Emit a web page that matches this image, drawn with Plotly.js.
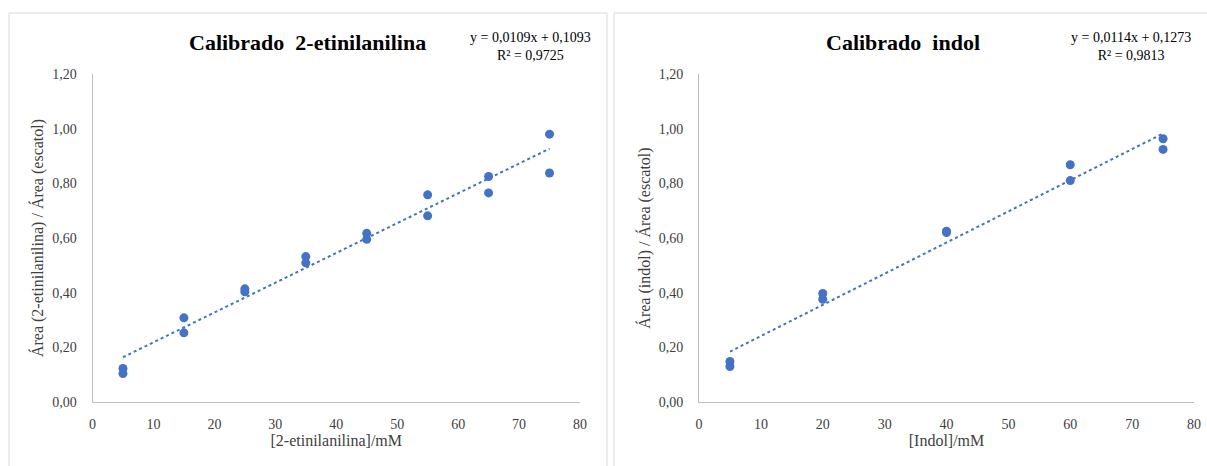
<!DOCTYPE html>
<html>
<head>
<meta charset="utf-8">
<script src="https://cdn.plot.ly/plotly-3.0.1.min.js"></script>
<style>html,body{margin:0;padding:0;background:#fff;}#chart{width:1207px;height:466px;}</style>
</head>
<body>
<div id="chart"></div>
<script>
// ---- Data: 2-etinilanilina calibration ----
const xEtin = [5, 5, 15, 15, 25, 25, 35, 35, 45, 45, 55, 55, 65, 65, 75, 75];
const yEtin = [0.123, 0.104, 0.308, 0.253, 0.414, 0.403, 0.532, 0.509, 0.617, 0.595, 0.758, 0.681, 0.825, 0.765, 0.980, 0.838];
const fitEtin = [0.0109, 0.1093];   // slope, intercept
const r2Etin = 0.9725;

// ---- Data: indol calibration ----
const xIndol = [5, 5, 20, 20, 40, 40, 60, 60, 75, 75];
const yIndol = [0.148, 0.130, 0.397, 0.376, 0.625, 0.620, 0.868, 0.810, 0.963, 0.924];
const fitIndol = [0.0114, 0.1273];
const r2Indol = 0.9813;

const titles = ["Calibrado  2-etinilanilina", "Calibrado  indol"];
const xTitles = ["[2-etinilanilina]/mM", "[Indol]/mM"];
const yTitles = ["Área (2-etinilanilina) / Área (escatol)", "Área (indol) / Área (escatol)"];

const BLUE = "#4472C4";
const SERIF = "Liberation Serif, Times New Roman, serif";

function fmt(v, d) { return v.toFixed(d).replace(".", ","); }
function fitLine(xs, coef) {
  const lo = Math.min(...xs), hi = Math.max(...xs);
  return { x: [lo, hi], y: [coef[0] * lo + coef[1], coef[0] * hi + coef[1]] };
}

const fe = fitLine(xEtin, fitEtin);
const fi = fitLine(xIndol, fitIndol);

const traces = [
  { x: fe.x, y: fe.y, xaxis: "x", yaxis: "y", mode: "lines", line: { color: BLUE, width: 2, dash: "dot" }, hoverinfo: "skip" },
  { x: xEtin, y: yEtin, xaxis: "x", yaxis: "y", mode: "markers", marker: { color: BLUE, size: 9 } },
  { x: fi.x, y: fi.y, xaxis: "x2", yaxis: "y2", mode: "lines", line: { color: BLUE, width: 2, dash: "dot" }, hoverinfo: "skip" },
  { x: xIndol, y: yIndol, xaxis: "x2", yaxis: "y2", mode: "markers", marker: { color: BLUE, size: 9 } }
];

const W = 1207, H = 466;
const px = v => v / W, py = v => 1 - v / H;

function xax(d0, d1, anchor, title) {
  return {
    domain: [px(d0), px(d1)], anchor: anchor, range: [0, 80], dtick: 10, tick0: 0,
    showgrid: false, zeroline: false, showline: true, linecolor: "#bfbfbf", linewidth: 1,
    ticks: "", ticklabelstandoff: 9, tickfont: { family: SERIF, size: 14, color: "#404040" },
    title: { text: title, font: { family: SERIF, size: 16, color: "#404040" }, standoff: 4 },
    fixedrange: true
  };
}
function yax(anchor, title) {
  return {
    domain: [py(402), py(74)], anchor: anchor, range: [0, 1.2], dtick: 0.2, tick0: 0,
    tickformat: ".2f", showgrid: false, zeroline: false, showline: true, linecolor: "#bfbfbf", linewidth: 1,
    ticks: "", ticklabelstandoff: 12, tickfont: { family: SERIF, size: 14, color: "#404040" },
    title: { text: title, font: { family: SERIF, size: 16, color: "#404040" }, standoff: 4 },
    fixedrange: true
  };
}

const ann = [];
function addTitle(text, cx) {
  ann.push({ text: "<b>" + text + "</b>", x: px(cx), y: py(42), xref: "paper", yref: "paper",
    xanchor: "center", yanchor: "middle", showarrow: false, font: { family: SERIF, size: 22, color: "#000" } });
}
function addEq(coef, r2, cx) {
  ann.push({ text: "y = " + fmt(coef[0], 4) + "x + " + fmt(coef[1], 4) + "<br>R² = " + fmt(r2, 4),
    x: px(cx), y: py(46), xref: "paper", yref: "paper", xanchor: "center", yanchor: "middle",
    align: "center", showarrow: false, font: { family: SERIF, size: 14, color: "#000" } });
}
addTitle(titles[0], 307);
addTitle(titles[1], 903);
addEq(fitEtin, r2Etin, 530);
addEq(fitIndol, r2Indol, 1131);

const layout = {
  width: W, height: H, margin: { l: 0, r: 0, t: 0, b: 0 },
  paper_bgcolor: "#fff", plot_bgcolor: "rgba(0,0,0,0)", showlegend: false,
  separators: ",.",
  xaxis: xax(92.5, 580, "y", xTitles[0]),
  yaxis: yax("x", yTitles[0]),
  xaxis2: xax(699, 1194, "y2", xTitles[1]),
  yaxis2: yax("x2", yTitles[1]),
  annotations: ann,
  shapes: [
    { type: "rect", xref: "paper", yref: "paper", x0: px(9), x1: px(607), y0: py(475), y1: py(13), line: { color: "#d9d9d9", width: 1 } },
    { type: "rect", xref: "paper", yref: "paper", x0: px(614), x1: px(1215), y0: py(475), y1: py(13), line: { color: "#d9d9d9", width: 1 } }
  ]
};

Plotly.newPlot("chart", traces, layout, { displayModeBar: false, staticPlot: true });
</script>
</body>
</html>
